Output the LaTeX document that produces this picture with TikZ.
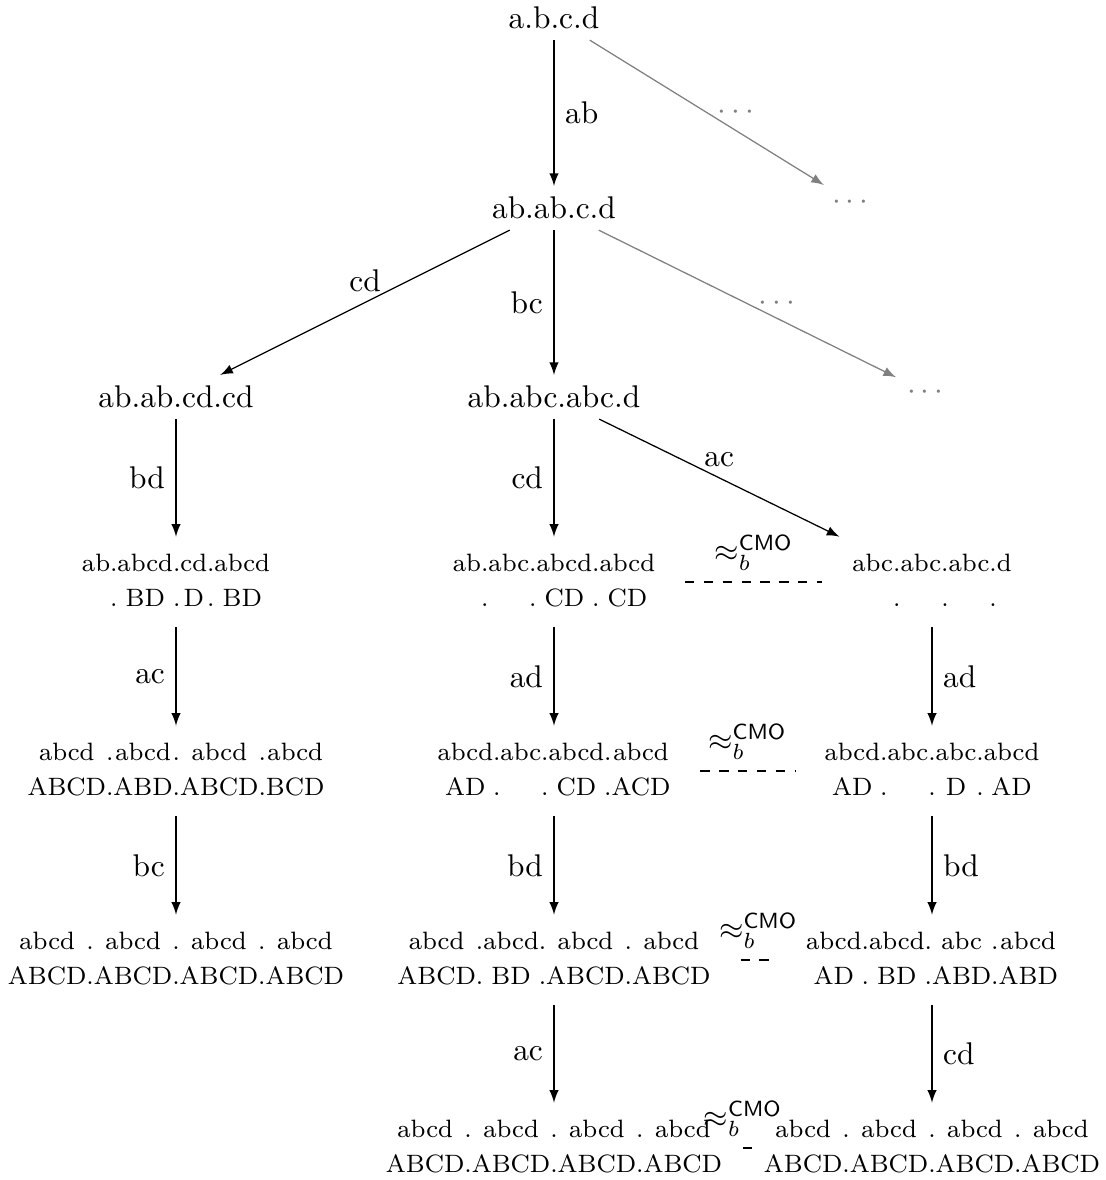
\documentclass[tikz,border=0pt]{standalone}
\usepackage{amsmath}
\usepackage{amsfonts}
\usetikzlibrary{calc}

\newcommand{\tabl}[2]{{\footnotesize\renewcommand{\arraystretch}{1.15}\begin{tabular}{c@{.}c@{.}c@{.}c}#1\\#2\end{tabular}}} % 2段の表
\newcommand{\cmo}{$\approx_b^{\textsf{CMO}}$} % 同値ラベル

\begin{document}
\begin{tikzpicture}[x=0.0112cm, y=-0.0112cm, >=latex] % 1単位=1px
  \useasboundingbox (0,0) rectangle (1105,1180);

  % ノード
  \node (n1) at (554,18) {a.b.c.d};
  \node (n2) at (554,208) {ab.ab.c.d};
  \node[gray] (g1) at (853,203) {$\cdots$};
  \node (l3) at (176,397) {ab.ab.cd.cd};
  \node (m3) at (554,397) {ab.abc.abc.d};
  \node[gray] (g2) at (928,393) {$\cdots$};
  \node (l4) at (176,582) {\tabl{ab&abcd&cd&abcd}{&BD&D&BD}};
  \node (m4) at (554,582) {\tabl{ab&abc&abcd&abcd}{&&CD&CD}};
  \node (r4) at (932,582) {\tabl{abc&abc&abc&d}{&&&}};
  \node (l5) at (176,771) {\tabl{abcd&abcd&abcd&abcd}{ABCD&ABD&ABCD&BCD}};
  \node (m5) at (554,771) {\tabl{abcd&abc&abcd&abcd}{AD&&CD&ACD}};
  \node (r5) at (932,771) {\tabl{abcd&abc&abc&abcd}{AD&&D&AD}};
  \node (l6) at (176,960) {\tabl{abcd&abcd&abcd&abcd}{ABCD&ABCD&ABCD&ABCD}};
  \node (m6) at (554,960) {\tabl{abcd&abcd&abcd&abcd}{ABCD&BD&ABCD&ABCD}};
  \node (r6) at (932,960) {\tabl{abcd&abcd&abc&abcd}{AD&BD&ABD&ABD}};
  \node (m7) at (554,1148) {\tabl{abcd&abcd&abcd&abcd}{ABCD&ABCD&ABCD&ABCD}};
  \node (r7) at (932,1148) {\tabl{abcd&abcd&abcd&abcd}{ABCD&ABCD&ABCD&ABCD}};

  % 矢印
  \draw[->] (n1) -- (n2) node[midway, right]{ab};
  \draw[gray, ->] (n1) -- (g1) node[midway, right]{$\cdots$};
  \draw[->] (n2) -- (l3) node[midway, above]{cd};
  \draw[->] (n2) -- (m3) node[midway, left]{bc};
  \draw[gray, ->] (n2) -- (g2) node[midway, right]{$\cdots$};
  \draw[->] (l3) -- (l4) node[midway, left]{bd};
  \draw[->] (m3) -- (m4) node[midway, left]{cd};
  \draw[->] (m3) -- (r4) node[midway, above]{ac};
  \draw[->] (l4) -- (l5) node[midway, left]{ac};
  \draw[->] (m4) -- (m5) node[midway, left]{ad};
  \draw[->] (r4) -- (r5) node[midway, right]{ad};
  \draw[->] (l5) -- (l6) node[midway, left]{bc};
  \draw[->] (m5) -- (m6) node[midway, left]{bd};
  \draw[->] (r5) -- (r6) node[midway, right]{bd};
  \draw[->] (m6) -- (m7) node[midway, left]{ac};
  \draw[->] (r6) -- (r7) node[midway, right]{cd};

  % 同値（破線）
  \draw[dashed] (m4) -- (r4) node[midway, above]{\cmo};
  \draw[dashed] (m5) -- (r5) node[midway, above]{\cmo};
  \draw[dashed] (m6) -- (r6) node[midway, above]{\cmo};
  \draw[dashed] (m7) -- (r7) node[midway, above]{\cmo};
\end{tikzpicture}
\end{document}
